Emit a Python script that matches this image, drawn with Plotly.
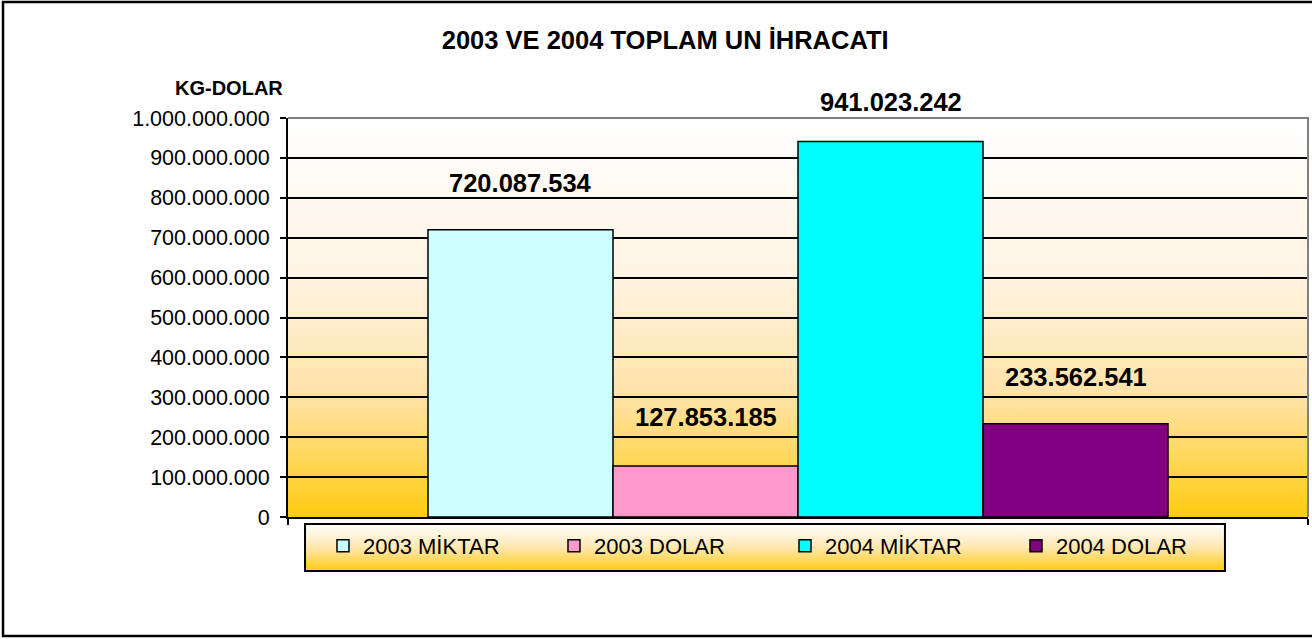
import base64
import plotly.graph_objects as go

# data
series_names = ["2003 MİKTAR", "2003 DOLAR", "2004 MİKTAR", "2004 DOLAR"]
series_values = [720087534, 127853185, 941023242, 233562541]
series_colors = ["#CCFFFF", "#FF99CC", "#00FFFF", "#800080"]
label_shift = [47, 49, 40, 47]
y_ticks = list(range(0, 1000000001, 100000000))

FONT = "Liberation Sans, Arial, sans-serif"


def gradient_uri(stops):
    parts = "".join("<stop offset='%s' stop-color='%s'/>" % s for s in stops)
    svg = ("<svg xmlns='http://www.w3.org/2000/svg' width='100' height='100' "
           "viewBox='0 0 100 100' preserveAspectRatio='none'><defs>"
           "<linearGradient id='g' x1='0' y1='0' x2='0' y2='1'>" + parts +
           "</linearGradient></defs><rect width='100' height='100' fill='url(#g)'/></svg>")
    return "data:image/svg+xml;base64," + base64.b64encode(svg.encode()).decode()


plot_grad = gradient_uri([("0", "#FFFFFF"), ("0.4", "#FFF3E2"), ("0.7", "#FFE2A6"), ("1", "#FFCC11")])
legend_grad = gradient_uri([("0", "#FFFFFF"), ("0.5", "#FFE7B0"), ("1", "#FFCC11")])

fig = go.Figure()
for i, (name, val, col) in enumerate(zip(series_names, series_values, series_colors)):
    fig.add_trace(go.Bar(x=[i], y=[val], name=name, width=1,
                         marker=dict(color=col, line=dict(color="black", width=1.5))))

gap = 140 / 185
x_range = [-0.5 - gap, len(series_values) - 0.5 + gap]

annotations = []
for i, (val, sh) in enumerate(zip(series_values, label_shift)):
    annotations.append(dict(x=i, y=val, xref="x", yref="y", yshift=sh,
                            text=f"{val:,}".replace(",", "."), showarrow=False,
                            font=dict(family=FONT, size=25.5, color="black", weight="bold")))
annotations.append(dict(x=-0.003, y=1.075, xref="paper", yref="paper",
                        xanchor="right", yanchor="middle",
                        text="<b>KG-DOLAR</b>", showarrow=False,
                        font=dict(family=FONT, size=20, color="black")))

# legend box: gradient + border drawn behind the (transparent) legend
leg_x0, leg_x1, leg_y0, leg_y1 = 0.0167, 0.9186, -0.1353, -0.0175

fig.update_layout(
    width=1312, height=639,
    margin=dict(l=288, r=4, t=118, b=122, autoexpand=False),
    paper_bgcolor="white", plot_bgcolor="rgba(0,0,0,0)",
    separators=",.",
    barmode="overlay",
    font=dict(family=FONT, color="black"),
    title=dict(text="<b>2003 VE 2004 TOPLAM UN İHRACATI</b>", x=0.507, xref="container",
               xanchor="center", y=0.937, yref="container", yanchor="middle",
               font=dict(family=FONT, size=25.5, color="black")),
    xaxis=dict(range=x_range, tickvals=x_range, showticklabels=False, ticks="outside",
               ticklen=6, tickwidth=1.5, tickcolor="black", showgrid=False, automargin=False,
               showline=True, linecolor="black", linewidth=2, zeroline=False, fixedrange=True),
    yaxis=dict(range=[0, 1000000000], tickvals=y_ticks, tickformat=",d", ticks="outside",
               ticklen=6, tickwidth=1.5, tickcolor="black", ticklabelstandoff=6,
               tickfont=dict(family=FONT, size=21.5, color="black"), automargin=False,
               showgrid=True, gridcolor="black", gridwidth=1.5,
               showline=True, linecolor="black", linewidth=2, zeroline=False, fixedrange=True),
    legend=dict(orientation="h", x=0.0343, xanchor="left", y=-0.02, yanchor="top",
                bgcolor="rgba(0,0,0,0)", borderwidth=0,
                entrywidth=186, entrywidthmode="pixels",
                font=dict(family=FONT, size=22, color="black")),
    annotations=annotations,
    images=[
        dict(source=plot_grad, xref="paper", yref="paper", x=0, y=1, sizex=1, sizey=1,
             xanchor="left", yanchor="top", sizing="stretch", layer="below"),
        dict(source=legend_grad, xref="paper", yref="paper", x=leg_x0, y=leg_y1,
             sizex=leg_x1 - leg_x0, sizey=leg_y1 - leg_y0, xanchor="left", yanchor="top",
             sizing="stretch", layer="below"),
    ],
    shapes=[
        dict(type="path", xref="paper", yref="paper", path="M 0 1 L 1 1 L 1 0",
             line=dict(color="#808080", width=2), layer="above"),
        dict(type="rect", xref="paper", yref="paper", x0=leg_x0, x1=leg_x1, y0=leg_y0, y1=leg_y1,
             line=dict(color="black", width=2), layer="above"),
        dict(type="rect", xref="paper", yref="paper", x0=-0.2794, x1=1.02, y0=-0.2983, y1=1.2907,
             line=dict(color="black", width=2.5), layer="below"),
    ],
)

# drop the browser's default 8px body margin so the chart sits at the page corner
fig.write_html("out.html", config={"displayModeBar": False},
               post_script="document.body.style.margin='0';")
